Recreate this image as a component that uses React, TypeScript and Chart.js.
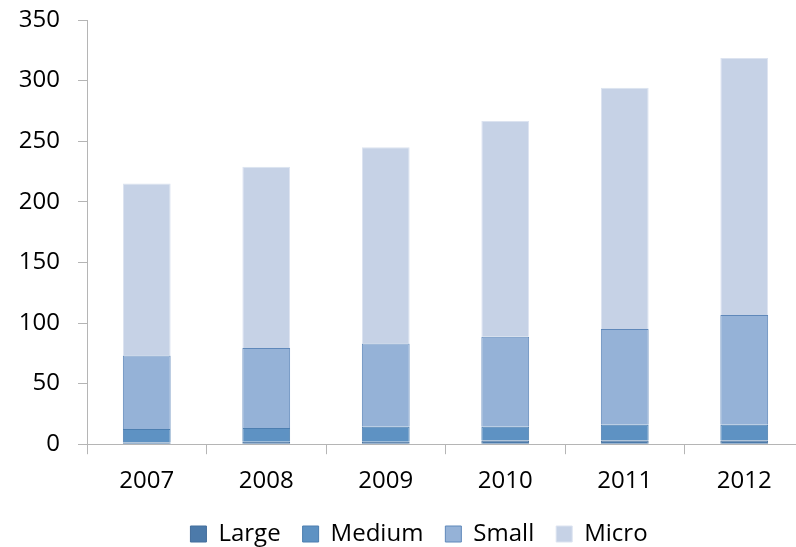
import React, { useEffect, useRef } from "react";
import { Chart, registerables } from "chart.js";

Chart.register(...registerables);

const categories = ["2007", "2008", "2009", "2010", "2011", "2012"];
const largeValues = [1.5, 2, 2, 3, 3, 3];
const mediumValues = [11, 11.3, 12.4, 11.4, 13, 13];
const smallValues = [60.6, 66, 68.6, 74.3, 79, 90.7];
const microValues = [142, 149.6, 162, 178, 199, 212];
const yTicks = [0, 50, 100, 150, 200, 250, 300, 350];

const FONT = "'Open Sans', sans-serif";

const legendShift = {
  id: "legendShift",
  beforeDraw(chart: any) {
    const lg = chart.legend;
    if (!lg) return;
    const dx = 17;
    const dy = -9;
    lg.left += dx;
    lg.right += dx;
    lg.top += dy;
    lg.bottom += dy;
  },
};

export default function App() {
  const ref = useRef<HTMLCanvasElement | null>(null);

  useEffect(() => {
    if (!ref.current) return;
    const common = { borderWidth: 1, barPercentage: 0.4, categoryPercentage: 1 };
    const chart = new Chart(ref.current, {
      type: "bar",
      data: {
        labels: categories,
        datasets: [
          { label: "Large", data: largeValues, backgroundColor: "#4C7AAA", borderColor: "#436E9C", ...common },
          { label: "Medium", data: mediumValues, backgroundColor: "#5E92C3", borderColor: "#4C7EB0", ...common },
          { label: "Small", data: smallValues, backgroundColor: "#95B2D7", borderColor: "#5F88BA", ...common },
          { label: "Micro", data: microValues, backgroundColor: "#C6D2E6", borderColor: "#DCE3F0", ...common },
        ],
      },
      plugins: [legendShift],
      options: {
        animation: false,
        responsive: false,
        maintainAspectRatio: false,
        layout: { padding: { left: 0, right: 2, top: 20, bottom: 0 } },
        plugins: {
          tooltip: { enabled: false },
          legend: {
            position: "bottom",
            labels: {
              font: { family: FONT, size: 24 },
              color: "#000",
              boxWidth: 16,
              boxHeight: 16,
              padding: 22,
            },
          },
        },
        scales: {
          x: {
            stacked: true,
            grid: { drawOnChartArea: false, drawTicks: true, tickLength: 10, color: "#B5B5B5", offset: true },
            border: { display: true, color: "#B5B5B5", width: 1 },
            ticks: { font: { family: FONT, size: 24 }, color: "#000", padding: 13 },
          },
          y: {
            stacked: true,
            min: 0,
            max: 350,
            afterBuildTicks: (scale: any) => {
              scale.ticks = yTicks.map((v) => ({ value: v }));
            },
            afterFit: (scale: any) => {
              scale.width = 87;
              scale.paddingTop = 14;
              scale.paddingBottom = 14;
            },
            grid: { drawOnChartArea: false, drawTicks: true, tickLength: 9, color: "#B5B5B5" },
            border: { display: true, color: "#B5B5B5", width: 1 },
            ticks: { font: { family: FONT, size: 24 }, color: "#000", padding: 18 },
          },
        },
      },
    });
    return () => chart.destroy();
  }, []);

  return (
    <div style={{ position: "fixed", left: 0, top: 0, width: 796, height: 547, overflow: "hidden", background: "#fff" }}>
      <canvas ref={ref} width={806} height={565} style={{ display: "block" }} />
    </div>
  );
}
